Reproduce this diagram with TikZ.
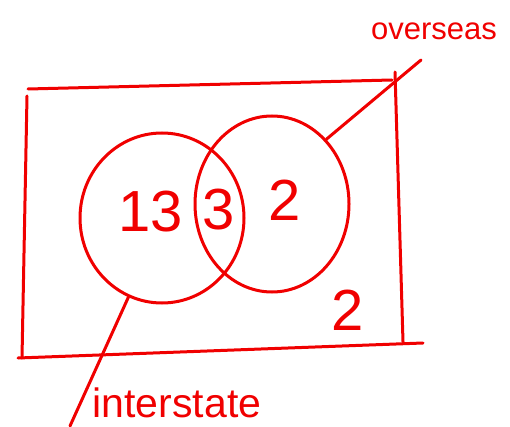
\documentclass[tikz,border=0pt]{standalone}
\usepackage{fontspec}
\setmainfont{Liberation Sans}
\usetikzlibrary{shapes.geometric}
\definecolor{ink}{RGB}{240,0,0}
\begin{document}
\begin{tikzpicture}[x=1pt,y=-1pt,
  pen/.style={draw=ink,line width=3pt,line cap=round,line join=round},
  setcircle/.style={pen,ellipse,inner sep=0pt},
  bignum/.style={text=ink,font=\fontsize{58}{58}\selectfont,inner sep=0pt},
  handlabel/.style={text=ink,inner sep=0pt}]
\useasboundingbox (0,0) rectangle (510,427);
% universal rectangle
\coordinate (tl) at (28,89);
\coordinate (tr) at (392,80);
\coordinate (trt) at (395,72);
\coordinate (br) at (403,342);
\coordinate (bre) at (423,343);
\coordinate (bl) at (18,358);
\coordinate (lt) at (27,96);
\coordinate (lb) at (22,358);
\draw[pen] (tl) -- (tr);
\draw[pen] (trt) -- (br);
\draw[pen] (bl) -- (bre);
\draw[pen] (lt) -- (lb);
% sets
\node[setcircle,minimum width=164pt,minimum height=170pt] (L) at (162,218) {};
\node[setcircle,minimum width=154pt,minimum height=176pt] (R) at (272,204) {};
% region counts
\node[bignum] (n13) at (151,212) {13};
\node[bignum] (n3) at (219,210) {3};
\node[bignum] (n2) at (285,200) {2};
\node[bignum] (nout) at (348,310) {2};
% labels
\node[handlabel,font=\fontsize{31}{31}\selectfont] (over) at (434,31) {overseas};
\node[handlabel,font=\fontsize{41}{41}\selectfont] (inter) at (177,403) {interstate};
\coordinate (overend) at (421,60);
\coordinate (interend) at (70,426);
\draw[pen] (R.50) -- (overend);
\draw[pen] (L.247) -- (interend);
\end{tikzpicture}
\end{document}
